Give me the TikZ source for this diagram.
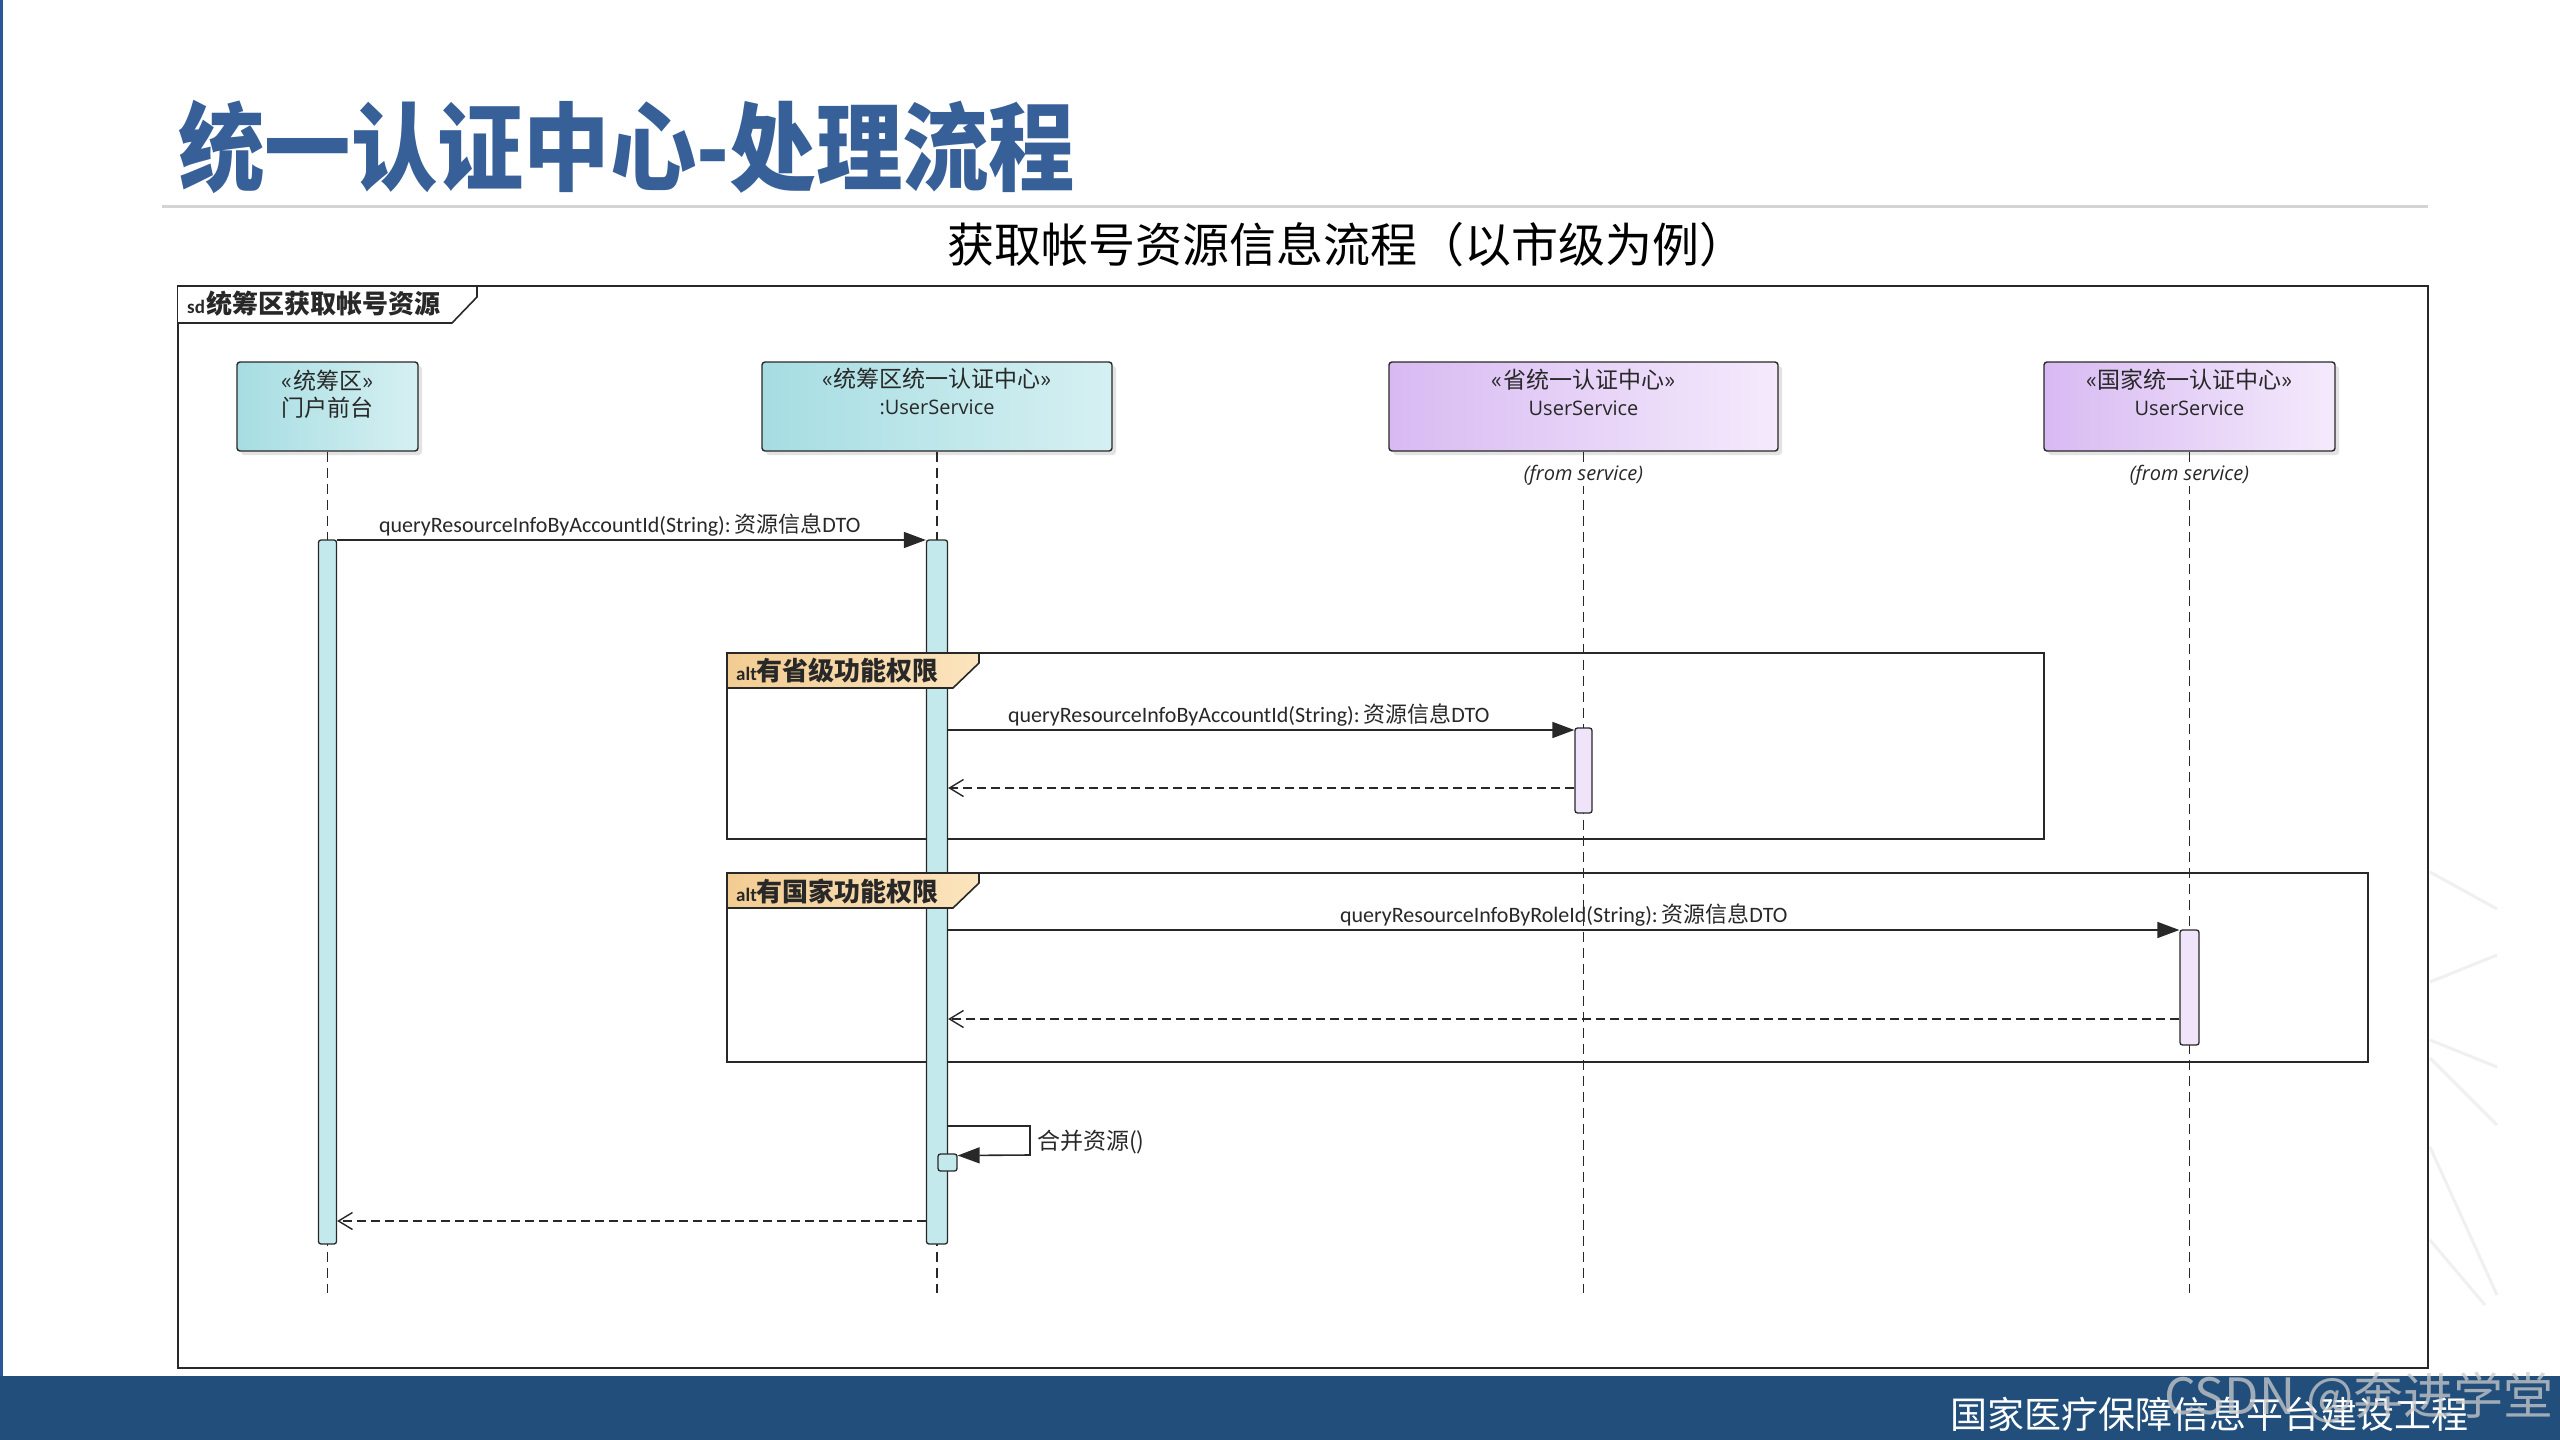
\documentclass[tikz,border=0pt]{standalone}
\usepackage{graphicx}
\usepackage{fontspec}
\setmainfont{Noto Sans CJK SC}
\newfontfamily\cjk{Noto Sans CJK SC}
\newfontfamily\lab{Carlito}
\newfontfamily\osans{Open Sans}
\usetikzlibrary{arrows.meta,shadows,calc}
\definecolor{titleblue}{RGB}{56,96,152}
\definecolor{bandblue}{RGB}{33,78,122}
\definecolor{edgeblue}{RGB}{46,85,151}
\definecolor{tealL}{RGB}{166,221,226}
\definecolor{tealR}{RGB}{214,240,242}
\definecolor{purL}{RGB}{216,186,242}
\definecolor{purR}{RGB}{244,234,252}
\definecolor{orL}{RGB}{242,204,146}
\definecolor{orR}{RGB}{251,228,190}
\definecolor{barteal}{RGB}{196,233,236}
\definecolor{barpur}{RGB}{240,228,250}
\definecolor{ink}{RGB}{40,40,40}
\definecolor{rulegray}{RGB}{212,212,212}
\newcommand\fs[1]{\fontsize{#1}{#1}\selectfont}
\newcommand\mlab[2]{{\lab #1}\,{\cjk #2}{\lab DTO}}
\tikzset{
  head/.style={draw=ink, line width=1.4pt, rounded corners=3pt,
    drop shadow={shadow xshift=4pt, shadow yshift=-4pt, opacity=0.22},
    minimum height=89pt, inner sep=0pt},
  tealhead/.style={head, left color=tealL, right color=tealR},
  purhead/.style={head, left color=purL, right color=purR},
  actbar/.style={draw=ink, line width=1.3pt, rounded corners=2.5pt, inner sep=0pt},
  tealbar/.style={actbar, fill=barteal},
  purbar/.style={actbar, fill=barpur},
  lifeline/.style={draw=ink, line width=1.3pt, dash pattern=on 10pt off 6pt},
  call/.style={draw=ink, line width=1.6pt, -{Triangle[length=22pt,width=16pt]}},
  reply/.style={draw=ink, line width=1.5pt, dash pattern=on 9pt off 5pt,
    -{Straight Barb[length=14pt,width=17pt,line width=1.4pt]}},
  msglabel/.style={text=ink, inner sep=3pt, font=\fs{22}},
  stereo/.style={text=ink, inner sep=0pt, font=\cjk\fs{23}},
  svc/.style={text=ink, inner sep=0pt, font=\osans\fs{20}},
  fromsvc/.style={text=ink, fill=white, inner sep=1pt, font=\osans\itshape\fs{20}},
  fragframe/.style={draw=ink, line width=1.8pt},
  fragtab/.style={draw=ink, line width=1.6pt, left color=orL, right color=orR},
  decoline/.style={draw=black!6, line width=3pt},
}
\begin{document}
\begin{tikzpicture}[x=1pt,y=-1pt]
\useasboundingbox (0,0) rectangle (2560,1440);
\fill[white] (0,0) rectangle (2560,1440);
% faint background decoration
\draw[decoline] (2430,872) -- (2497,909);
\draw[decoline] (2430,982) -- (2497,955);
\draw[decoline] (2430,1040) -- (2497,1067);
\draw[decoline] (2430,1058) -- (2497,1125);
\draw[decoline] (2430,1147) -- (2497,1295);
\draw[decoline] (2430,1240) -- (2485,1305);
% slide decorations
\fill[edgeblue] (0,0) rectangle (3,1376);
\node[anchor=west, inner sep=0pt, text=titleblue, font=\cjk\bfseries\fs{96}] (title) at (178,147) {\scalebox{0.9}[1]{统一认证中心-处理流程}};
\draw[rulegray, line width=3pt] (162,206) -- (2428,206);
\node[inner sep=0pt, text=black, font=\cjk\fs{47}] (subtitle) at (1347,245) {获取帐号资源信息流程（以市级为例）};
% diagram frame
\draw[draw=ink, line width=1.8pt, fill=white] (178,286) rectangle (2428,1368);
\draw[draw=ink, line width=1.6pt, fill=white] (178,286) -- (477,286) -- (477,297) -- (452,323) -- (178,323);
\node[anchor=west, inner sep=0pt, text=ink] (sdlabel) at (187,304) {{\lab\bfseries\fs{19}sd}\,{\cjk\bfseries\fs{26}统筹区获取帐号资源}};
% end of lifelines
\coordinate (lifeend) at (0,1293);
% lifeline heads
\node[tealhead, minimum width=181pt] (p1) at (327.5,406.5) {};
\node[tealhead, minimum width=350pt] (p2) at (937,406.5) {};
\node[purhead, minimum width=389pt] (p3) at (1583.5,406.5) {};
\node[purhead, minimum width=291pt] (p4) at (2189.5,406.5) {};
\node[stereo] (p1a) at ($(p1.north)+(0,19)$) {«统筹区»};
\node[stereo] (p1b) at ($(p1.north)+(0,46)$) {门户前台};
\node[stereo] (p2a) at ($(p2.north)+(0,17)$) {«统筹区统一认证中心»};
\node[svc] (p2b) at ($(p2.north)+(0,46)$) {:UserService};
\node[stereo] (p3a) at ($(p3.north)+(0,18)$) {«省统一认证中心»};
\node[svc] (p3b) at ($(p3.north)+(0,47)$) {UserService};
\node[stereo] (p4a) at ($(p4.north)+(0,18)$) {«国家统一认证中心»};
\node[svc] (p4b) at ($(p4.north)+(0,47)$) {UserService};
% lifelines
\draw[lifeline] (p1.south) -- (p1.south |- lifeend);
\draw[lifeline] (p2.south) -- (p2.south |- lifeend);
\draw[lifeline] (p3.south) -- (p3.south |- lifeend);
\draw[lifeline] (p4.south) -- (p4.south |- lifeend);
\node[fromsvc] (p3f) at (p3.south |- 0,475) {(from service)};
\node[fromsvc] (p4f) at (p4.south |- 0,475) {(from service)};
% combined fragment frames
\draw[fragframe] (727,653) rectangle (2044,839);
\draw[fragframe] (727,873) rectangle (2368,1062);
% activation bars
\node[tealbar, minimum width=18pt, minimum height=704pt] (a1) at (p1.south |- 0,892) {};
\node[tealbar, minimum width=21pt, minimum height=704pt] (a2) at (p2.south |- 0,892) {};
\node[purbar, minimum width=17pt, minimum height=85pt] (a3) at (p3.south |- 0,770.5) {};
\node[purbar, minimum width=19pt, minimum height=115pt] (a4) at (p4.south |- 0,987.5) {};
\node[tealbar, minimum width=19pt, minimum height=17pt] (a5) at (947.5,1162.5) {};
% fragment tabs (drawn over the bar)
\path[fragtab] (727,653) -- (979,653) -- (979,663) -- (953,688) -- (727,688) -- cycle;
\node[anchor=west, inner sep=0pt, text=ink] (alt1) at (736,671) {{\lab\bfseries\fs{19}alt}{\cjk\bfseries\fs{26}有省级功能权限}};
\path[fragtab] (727,873) -- (979,873) -- (979,883) -- (953,908) -- (727,908) -- cycle;
\node[anchor=west, inner sep=0pt, text=ink] (alt2) at (736,891) {{\lab\bfseries\fs{19}alt}{\cjk\bfseries\fs{26}有国家功能权限}};
% message levels
\coordinate (yM1) at (0,540);
\coordinate (yM2) at (0,730);
\coordinate (yR1) at (0,788);
\coordinate (yM3) at (0,930);
\coordinate (yR2) at (0,1019);
\coordinate (selfR) at (1030,1126);
\coordinate (yR3) at (0,1221);
% messages
\draw[call] (a1.east |- yM1) -- (a2.west |- yM1)
  node[msglabel, pos=0.48, above] (m1) {\mlab{queryResourceInfoByAccountId(String):}{资源信息}};
\draw[call] (a2.east |- yM2) -- (a3.west |- yM2)
  node[msglabel, pos=0.48, above] (m2) {\mlab{queryResourceInfoByAccountId(String):}{资源信息}};
\draw[reply] (a3.west |- yR1) -- (a2.east |- yR1);
\draw[call] (a2.east |- yM3) -- (a4.west |- yM3)
  node[msglabel, midway, above] (m3) {\mlab{queryResourceInfoByRoleId(String):}{资源信息}};
\draw[reply] (a4.west |- yR2) -- (a2.east |- yR2);
\draw[call] (a2.east |- selfR) -- (selfR) -- (selfR |- 0,1155) -- ($(a5.east)+(0,-7)$);
\node[anchor=west, text=ink, inner sep=0pt, font=\cjk\fs{23}] (selflabel) at (1037,1142) {合并资源()};
\draw[reply] (a2.west |- yR3) -- (a1.east |- yR3);
% footer band
\fill[bandblue] (0,1376) rectangle (2560,1440);
\node[inner sep=0pt, text=white, font=\cjk\fs{37}] (footer) at (2209,1414) {国家医疗保障信息平台建设工程};
\node[inner sep=0pt, text=white!80!black, opacity=0.75, font=\cjk\fs{50}] (watermark) at (2359,1398) {CSDN @奔进学堂};
\end{tikzpicture}
\end{document}
